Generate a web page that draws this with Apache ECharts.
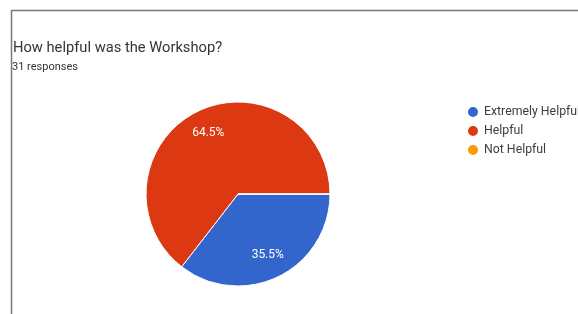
<!DOCTYPE html>
<html>
<head>
<meta charset="utf-8">
<script src="https://cdn.jsdelivr.net/npm/echarts@6/dist/echarts.min.js"></script>
<style>
  html, body { margin: 0; padding: 0; background: #fff; }
  #chart { width: 578px; height: 314px; }
</style>
</head>
<body>
<div id="chart"></div>
<script>
// 数据
var categories = ['Extremely Helpful', 'Helpful', 'Not Helpful'];
var counts = [11, 20, 0];
var colors = ['#3366cc', '#dc3912', '#ff9900'];

var pieData = categories.map(function (name, i) {
    return { name: name, value: counts[i], itemStyle: { color: colors[i] } };
});

var myChart = echarts.init(document.getElementById('chart'));

var option = {
    animation: false,
    textStyle: { fontFamily: 'Roboto' },
    title: [
        {
            text: 'How helpful was the Workshop?',
            left: 13, top: 41, padding: 0,
            textStyle: { fontSize: 14.7, fontWeight: 'normal', color: '#333', fontFamily: 'Roboto' }
        },
        {
            text: '31 responses',
            left: 12, top: 62, padding: 0,
            textStyle: { fontSize: 11, fontWeight: 'normal', color: '#333', fontFamily: 'Roboto' }
        }
    ],
    legend: {
        orient: 'vertical',
        left: 466, top: 105, padding: 0,
        icon: 'circle',
        itemWidth: 12, itemHeight: 12,
        itemGap: 5,
        data: categories,
        textStyle: { fontSize: 12.3, lineHeight: 12, color: '#3c3c3c', fontFamily: 'Roboto', padding: [0, 0, 0, 0] }
    },
    graphic: [
        { type: 'line', shape: { x1: 11, y1: 10.5, x2: 578, y2: 10.5 }, style: { stroke: '#777', lineWidth: 1.5 } },
        { type: 'line', shape: { x1: 11.5, y1: 10, x2: 11.5, y2: 314 }, style: { stroke: '#777', lineWidth: 1.5 } }
    ],
    series: [
        {
            // 饼图本体
            type: 'pie',
            center: [238, 194],
            radius: 92,
            startAngle: 0,
            clockwise: true,
            data: pieData,
            label: { show: false },
            labelLine: { show: false },
            itemStyle: { borderColor: '#fff', borderWidth: 1 },
            emphasis: { disabled: true },
            silent: true
        },
        {
            // 百分比标签 (放在 0.7 半径处)
            type: 'pie',
            center: [238, 194],
            radius: [37, 92],
            startAngle: 0,
            clockwise: true,
            percentPrecision: 1,
            data: pieData.map(function (d) {
                return { name: d.name, value: d.value, itemStyle: { color: 'transparent' } };
            }),
            label: {
                show: true,
                position: 'inside',
                color: '#fff',
                fontSize: 12,
                fontFamily: 'Roboto',
                formatter: function (p) { return p.value ? p.percent.toFixed(1) + '%' : ''; }
            },
            labelLine: { show: false },
            emphasis: { disabled: true },
            silent: true
        }
    ]
};

myChart.setOption(option);
</script>
</body>
</html>
